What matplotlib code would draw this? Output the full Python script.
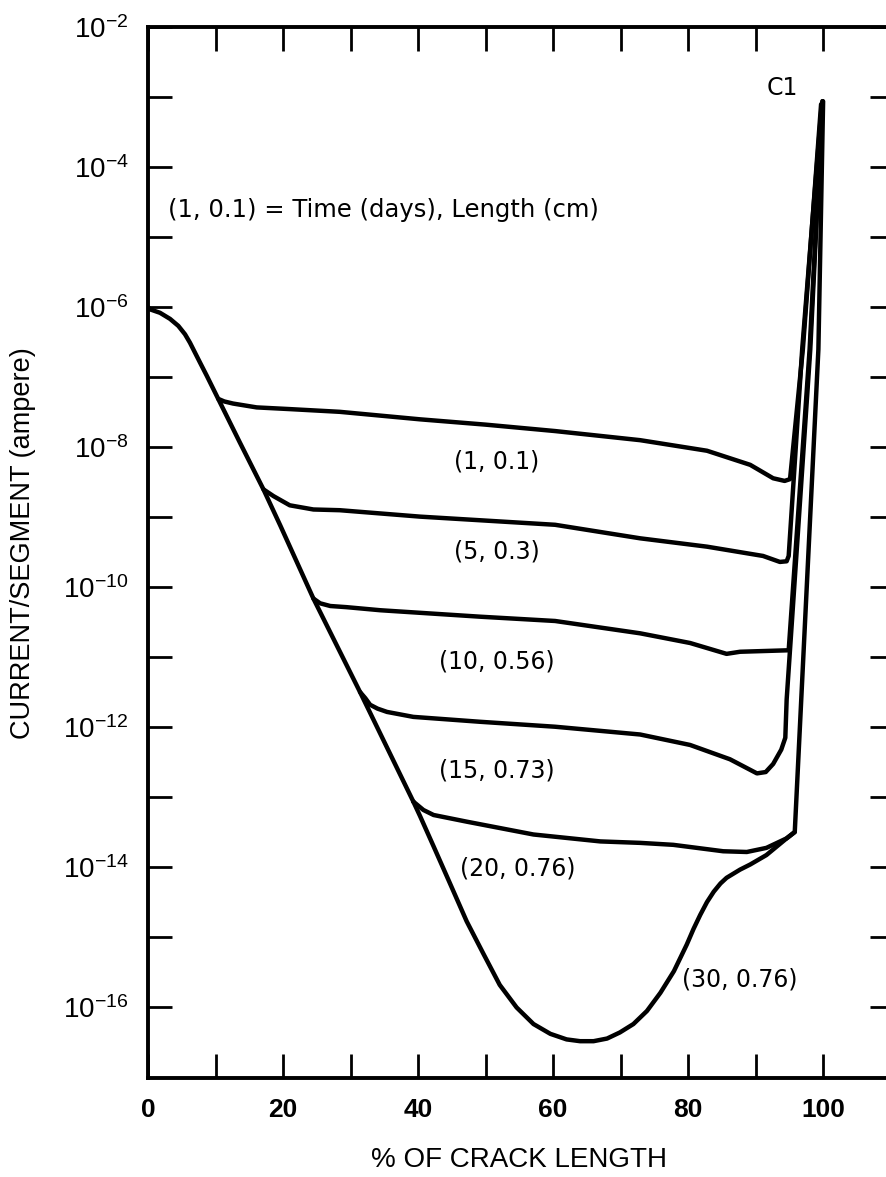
import matplotlib
matplotlib.use('Agg')
import matplotlib.pyplot as plt
import numpy as np
from matplotlib.ticker import FixedLocator, NullFormatter

plt.rcParams['font.family'] = ['Liberation Sans', 'DejaVu Sans']
plt.rcParams['mathtext.default'] = 'regular'

# Shared descending branch (x in % of crack length, current in A)
trunk_x = [0, 0.3, 1.78, 3.26, 4.49, 5.48, 6.22, 6.96, 7.70, 8.70, 9.67, 10.4,
           13.6, 17.1, 19.6, 24.5, 31.4, 39.3]
trunk_y = [1.0e-6, 9.3e-7, 8.3e-7, 6.8e-7, 5.4e-7, 4.1e-7, 3.1e-7, 2.24e-7, 1.62e-7,
           1.05e-7, 6.8e-8, 4.9e-8, 1.17e-8, 2.5e-9, 7.6e-10, 6.9e-11, 3.2e-12, 8.7e-14]

# Each case leaves the trunk, runs across, then climbs at the crack tip
c1_x = [10.4, 11.3, 12.6, 16.1, 21.0, 28.4, 40.3, 50.0, 60.3, 72.9, 82.8, 89.2,
        92.6, 94.3, 95.1, 97.0, 99.7]
c1_y = [4.9e-8, 4.5e-8, 4.2e-8, 3.7e-8, 3.5e-8, 3.2e-8, 2.5e-8, 2.1e-8, 1.7e-8,
        1.26e-8, 8.9e-9, 5.6e-9, 3.6e-9, 3.3e-9, 3.5e-9, 2.5e-7, 7.9e-4]

c5_x = [17.1, 18.6, 21.0, 24.5, 28.4, 40.3, 60.3, 72.9, 82.8, 91.1, 93.6, 94.6,
        94.9, 96.9, 99.8]
c5_y = [2.5e-9, 2.0e-9, 1.48e-9, 1.29e-9, 1.26e-9, 1.02e-9, 7.8e-10, 5.0e-10,
        3.8e-10, 2.8e-10, 2.3e-10, 2.35e-10, 2.8e-10, 2.5e-7, 7.9e-4]

c10_x = [24.5, 25.5, 27.0, 29.4, 34.4, 49.2, 60.3, 72.9, 80.3, 85.7, 87.7, 94.9,
         98.0, 99.9]
c10_y = [6.9e-11, 5.9e-11, 5.4e-11, 5.2e-11, 4.7e-11, 3.8e-11, 3.3e-11, 2.2e-11,
         1.6e-11, 1.12e-11, 1.2e-11, 1.26e-11, 2.5e-7, 8.7e-4]

c15_x = [31.4, 32.2, 32.9, 34.0, 35.4, 39.3, 49.2, 60.3, 72.9, 80.3, 86.2, 90.2,
         91.5, 92.6, 93.8, 94.4, 94.6, 98.1, 99.9]
c15_y = [3.2e-12, 2.6e-12, 2.1e-12, 1.85e-12, 1.66e-12, 1.41e-12, 1.2e-12, 1.02e-12,
         7.9e-13, 5.6e-13, 3.5e-13, 2.2e-13, 2.3e-13, 3.0e-13, 4.8e-13, 7.1e-13,
         2.5e-12, 2.5e-7, 8.7e-4]

c20_x = [39.3, 40.8, 42.3, 47.2, 57.1, 67.0, 72.9, 77.8, 85.2, 88.7, 91.6, 94.6,
         95.8, 99.3, 100.0]
c20_y = [8.7e-14, 6.6e-14, 5.6e-14, 4.5e-14, 2.95e-14, 2.35e-14, 2.24e-14, 2.1e-14,
         1.7e-14, 1.66e-14, 1.9e-14, 2.6e-14, 3.2e-14, 2.5e-7, 8.7e-4]

c30_x = [39.3, 40.3, 42.3, 44.7, 47.2, 49.7, 52.1, 54.6, 57.1, 59.6, 62.0, 64.0,
         66.0, 68.0, 69.9, 71.9, 73.9, 75.9, 77.9, 79.8, 80.8, 81.8, 82.8, 83.8,
         84.8, 85.7, 87.7, 89.2, 91.6, 94.6, 95.8]
c30_y = [8.7e-14, 5.4e-14, 2.0e-14, 6.0e-15, 1.7e-15, 5.8e-16, 2.1e-16, 1.0e-16,
         5.8e-17, 4.2e-17, 3.5e-17, 3.3e-17, 3.3e-17, 3.6e-17, 4.4e-17, 5.8e-17,
         8.9e-17, 1.62e-16, 3.3e-16, 7.9e-16, 1.32e-15, 2.1e-15, 3.2e-15, 4.5e-15,
         5.9e-15, 7.1e-15, 9.3e-15, 1.1e-14, 1.5e-14, 2.6e-14, 3.2e-14]

curve_labels = ['(1, 0.1)', '(5, 0.3)', '(10, 0.56)', '(15, 0.73)', '(20, 0.76)', '(30, 0.76)']
label_x = [51.7, 51.7, 51.7, 51.7, 54.7, 87.6]
label_y = [6.2e-9, 3.2e-10, 8.7e-12, 2.45e-13, 9.8e-15, 2.5e-16]

x_major = [0, 20, 40, 60, 80, 100]
x_minor = [10, 30, 50, 70, 90]
y_exp_major = [-16, -14, -12, -10, -8, -6, -4, -2]
y_exp_minor = [-15, -13, -11, -9, -7, -5, -3]

W, H = 887, 1177
fig = plt.figure(figsize=(W / 100, H / 100), dpi=100)
# right spine sits just past the page edge
left, right, top, bottom = 148, 894, 27, 1077.5
ax = fig.add_axes([left / W, 1 - bottom / H, (right - left) / W, (bottom - top) / H])

lw = 3.2
style = dict(color='black', lw=lw, solid_joinstyle='round', solid_capstyle='round')
ax.plot(trunk_x, trunk_y, **style)
for xs, ys in [(c1_x, c1_y), (c5_x, c5_y), (c10_x, c10_y), (c15_x, c15_y),
               (c20_x, c20_y), (c30_x, c30_y)]:
    ax.plot(xs, ys, **style)

ax.set_yscale('log')
ax.set_xlim(0, 110.5)
ax.set_ylim(1e-17, 1e-2)

ax.xaxis.set_major_locator(FixedLocator(x_major))
ax.xaxis.set_minor_locator(FixedLocator(x_minor))
ax.set_xticklabels([str(v) for v in x_major], fontsize=19, fontweight='bold')
ax.yaxis.set_major_locator(FixedLocator([10.0 ** e for e in y_exp_major]))
ax.yaxis.set_minor_locator(FixedLocator([10.0 ** e for e in y_exp_minor]))
ax.yaxis.set_minor_formatter(NullFormatter())
ax.set_yticklabels([r'$10^{%d}$' % e for e in y_exp_major], fontsize=20)

for which in ['major', 'minor']:
    ax.tick_params(axis='both', which=which, direction='in', length=17, width=2.0,
                   top=True, right=True, color='black')
ax.tick_params(axis='x', which='major', pad=15)
ax.tick_params(axis='y', which='major', pad=14)

for sp in ax.spines.values():
    sp.set_linewidth(2.8)

ax.set_xlabel('% OF CRACK LENGTH', fontsize=20)
ax.xaxis.set_label_coords(0.497, -0.066)
ax.set_ylabel('CURRENT/SEGMENT (ampere)', fontsize=19.5)
ax.yaxis.set_label_coords(-0.150, 0.509)

for txt, lx, ly in zip(curve_labels, label_x, label_y):
    ax.text(lx, ly, txt, fontsize=17, ha='center', va='center', family='DejaVu Sans')

ax.text(93.9, 1.35e-3, 'C1', fontsize=17, ha='center', va='center', family='DejaVu Sans')
ax.text(2.9, 2.45e-5, '(1, 0.1) = Time (days), Length (cm)', fontsize=17.5,
        ha='left', va='center', family='DejaVu Sans')

fig.savefig('out.png', dpi=100)
